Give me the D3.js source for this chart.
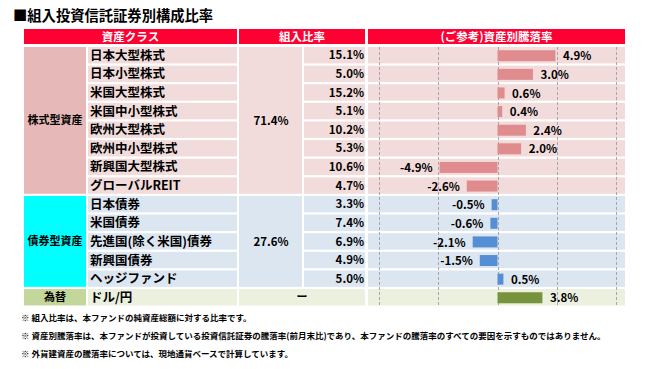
<!DOCTYPE html>
<html><head><meta charset="utf-8">
<script src="https://cdn.jsdelivr.net/npm/d3@7"></script>
<style>body{margin:0;background:#fff}svg{display:block}text{font-family:"Noto Sans CJK JP","Noto Sans",sans-serif;font-weight:bold}</style>
</head><body><div id="c"></div>
<script>
const title = "■組入投資信託証券別構成比率";
const headers = ["資産クラス", "組入比率", "(ご参考)資産別騰落率"];
const groups = ["株式型資産", "債券型資産", "為替"];
const groupWeights = ["71.4%", "27.6%", "ー"];
const assetNames = ["日本大型株式","日本小型株式","米国大型株式","米国中小型株式","欧州大型株式","欧州中小型株式","新興国大型株式","グローバルREIT","日本債券","米国債券","先進国(除く米国)債券","新興国債券","ヘッジファンド","ドル/円"];
const assetGroup = [0,0,0,0,0,0,0,0,1,1,1,1,1,2];
const weights = [15.1,5.0,15.2,5.1,10.2,5.3,10.6,4.7,3.3,7.4,6.9,4.9,5.0,null];
const returns = [4.9,3.0,0.6,0.4,2.4,2.0,-4.9,-2.6,-0.5,-0.6,-2.1,-1.5,0.5,3.8];
const gridTicks = [-10,-5,0,5,10];
const notes = [
 "※ 組入比率は、本ファンドの純資産総額に対する比率です。",
 "※ 資産別騰落率は、本ファンドが投資している投資信託証券の騰落率(前月末比)であり、本ファンドの騰落率のすべての要因を示すものではありません。",
 "※ 外貨建資産の騰落率については、現地通貨ベースで計算しています。"
];
const groupCellColors = ["#E6B8B7","#00FFFF","#C4D79B"];
const rowColors = ["#F2DCDB","#DCE6F1","#EBF1DE"];
const barColors = ["#E08B8D","#558ED5","#77933C"];

const W = 652, H = 369;
const svg = d3.select("#c").append("svg").attr("width", W).attr("height", H);

const cols = {g:[24,86], n:[88,237], gw:[239,302], w:[304,365], c:[368,625]};
const pitch = 18.62, gap = 2.2, top0 = 47;
const y = d3.scaleBand().domain(d3.range(assetNames.length)).range([top0, top0 + pitch*assetNames.length]).padding(0);
const rh = y.bandwidth() - gap;
const x = d3.scaleLinear().domain([-10, 10]).range([379.3, 615.7]);

// title
svg.append("text").attr("x", 13).attr("y", 21).attr("font-size", 14.3).attr("fill", "#000").text(title);

// header
const hdr = [[cols.g[0], cols.n[1]], [cols.gw[0], cols.w[1]], [cols.c[0], cols.c[1]]];
hdr.forEach((h, i) => {
  svg.append("rect").attr("x", h[0]).attr("y", 29).attr("width", h[1]-h[0]).attr("height", 15).attr("fill", "#FF0033");
  svg.append("text").attr("x", (h[0]+h[1])/2).attr("y", 37).attr("dy", "0.35em").attr("text-anchor", "middle")
    .attr("font-size", 11.5).attr("fill", "#fff").text(headers[i]);
});

// rows
const rows = svg.append("g");
assetNames.forEach((n, i) => {
  const g = assetGroup[i], yt = y(i), cy = yt + rh/2;
  rows.append("rect").attr("x", cols.n[0]).attr("y", yt).attr("width", cols.n[1]-cols.n[0]).attr("height", rh).attr("fill", rowColors[g]);
  if (g === 2) {
    rows.append("rect").attr("x", cols.gw[0]).attr("y", yt).attr("width", cols.w[1]-cols.gw[0]).attr("height", rh).attr("fill", rowColors[g]);
  } else {
    rows.append("rect").attr("x", cols.w[0]).attr("y", yt).attr("width", cols.w[1]-cols.w[0]).attr("height", rh).attr("fill", rowColors[g]);
  }
  rows.append("rect").attr("x", cols.c[0]).attr("y", yt).attr("width", cols.c[1]-cols.c[0]).attr("height", rh).attr("fill", rowColors[g]);
  rows.append("text").attr("x", 90).attr("y", cy).attr("dy", "0.36em").attr("font-size", 12.5).attr("fill", "#000").text(n);
  if (weights[i] !== null) {
    rows.append("text").attr("x", 364).attr("y", cy).attr("dy", "0.36em").attr("text-anchor", "end")
      .attr("font-size", 11.5).attr("fill", "#000").text(weights[i].toFixed(1) + "%");
  }
});

// group cells
groups.forEach((gname, g) => {
  const idx = d3.range(assetNames.length).filter(i => assetGroup[i] === g);
  const yt = y(idx[0]), yb = y(idx[idx.length-1]) + rh, cy = (yt+yb)/2;
  svg.append("rect").attr("x", cols.g[0]).attr("y", yt).attr("width", cols.g[1]-cols.g[0]).attr("height", yb-yt).attr("fill", groupCellColors[g]);
  svg.append("text").attr("x", (cols.g[0]+cols.g[1])/2).attr("y", cy).attr("dy", "0.36em").attr("text-anchor", "middle")
    .attr("font-size", 11).attr("fill", "#000").text(gname);
  if (g !== 2) {
    svg.append("rect").attr("x", cols.gw[0]).attr("y", yt).attr("width", cols.gw[1]-cols.gw[0]).attr("height", yb-yt).attr("fill", rowColors[g]);
    svg.append("text").attr("x", (cols.gw[0]+cols.gw[1])/2 + 0.5).attr("y", cy).attr("dy", "0.36em").attr("text-anchor", "middle")
      .attr("font-size", 11.5).attr("fill", "#000").text(groupWeights[g]);
  } else {
    svg.append("text").attr("x", (cols.gw[0]+cols.w[1])/2).attr("y", cy).attr("dy", "0.36em").attr("text-anchor", "middle")
      .attr("font-size", 11).attr("fill", "#000").text(groupWeights[g]);
  }
});

// grid lines
svg.append("g").selectAll("line").data(gridTicks).join("line")
  .attr("x1", d => Math.round(x(d)) + 0.5).attr("x2", d => Math.round(x(d)) + 0.5)
  .attr("y1", top0).attr("y2", y(assetNames.length-1) + rh)
  .attr("stroke", "#A6A6A6").attr("stroke-width", 1).attr("stroke-dasharray", "3,2");

// bars
const bh = 11;
svg.append("g").selectAll("rect").data(returns).join("rect")
  .attr("x", d => x(Math.min(0, d))).attr("width", d => Math.abs(x(d) - x(0)))
  .attr("y", (d, i) => y(i) + rh/2 - bh/2 + 0.5).attr("height", bh)
  .attr("fill", (d, i) => barColors[assetGroup[i]]);
svg.append("g").selectAll("text").data(returns).join("text")
  .attr("x", d => d >= 0 ? x(d) + 7.5 : x(d) - 7)
  .attr("text-anchor", d => d >= 0 ? "start" : "end")
  .attr("y", (d, i) => y(i) + rh/2 + 1).attr("dy", "0.36em")
  .attr("font-size", 11.5).attr("fill", "#000").text(d => d.toFixed(1) + "%");

// notes
notes.forEach((t, i) => {
  svg.append("text").attr("x", 21).attr("y", 321 + i*18).attr("font-size", 8.5).attr("fill", "#000").text(t);
});
</script></body></html>
